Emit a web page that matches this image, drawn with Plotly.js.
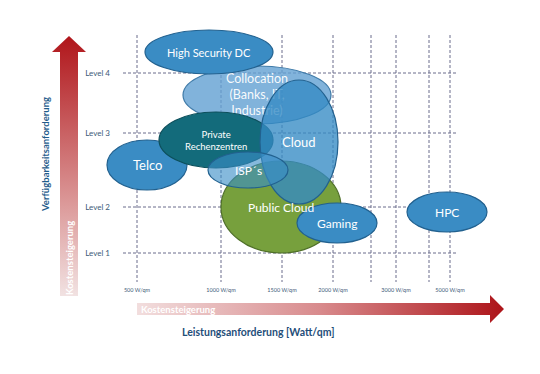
<!DOCTYPE html>
<html>
<head>
<meta charset="utf-8">
<script src="https://cdn.plot.ly/plotly-3.0.1.min.js"></script>
<style>html,body{margin:0;padding:0;background:#fff;}#chart{width:540px;height:374px;}</style>
</head>
<body>
<div id="chart"></div>
<script>
// ---- data (positions on the diagram scale) ----
const xTickPos   = [137, 221, 282, 333, 371, 396, 429, 450];
const xTickLabel = ['500 W/qm', '1000 W/qm', '1500 W/qm', '2000 W/qm', '', '3000 W/qm', '', '5000 W/qm'];
const levelPos   = [73, 133, 207, 253];
const levelLabel = ['Level 4', 'Level 3', 'Level 2', 'Level 1'];

const bubbleNames = ['Collocation', 'High Security DC', 'Telco', 'Public Cloud', 'Private<br>Rechenzentren', 'Cloud', 'ISP´s', 'Gaming', 'HPC'];
const bubbleX  = [257, 209, 147, 281, 216, 299, 248, 337, 447];
const bubbleY  = [95, 52, 165, 207, 140, 142, 170, 223, 212];
const bubbleRX = [74, 64, 40, 60, 57, 39, 40, 40, 40];
const bubbleRY = [29, 22, 25, 46, 28, 62, 18, 20, 20];
const collocationText = 'Collocation<br>(Banks, IT,<br>Industrie)';

// ---- styles ----
const fills = ['rgba(98,160,210,0.80)', '#3a8cc4', '#3a8cc4', '#77a03d', '#136b7b',
               'rgba(52,138,196,0.78)', 'rgba(58,142,198,0.62)', '#3a8cc4', '#3a8cc4'];
const lines = ['#3e7aa8', '#22618f', '#22618f', '#4f7028', '#0c4f5b', '#22618f', '#22618f', '#22618f', '#22618f'];
const fontSizes = [12, 11, 13, 12, 9.5, 13, 12, 12, 12];

const gridMinY = 35, gridMaxY = 282, gridMinX = 123, gridMaxX = 458;

const shapes = [];
// grid lines
xTickPos.forEach(v => shapes.push({type:'line', xref:'x', yref:'y', x0:v, x1:v, y0:gridMinY, y1:gridMaxY,
  line:{color:'#6b6d8c', width:1, dash:'3px,2px'}, layer:'below'}));
levelPos.forEach(v => shapes.push({type:'line', xref:'x', yref:'y', x0:gridMinX, x1:gridMaxX, y0:v, y1:v,
  line:{color:'#6b6d8c', width:1, dash:'3px,2px'}, layer:'below'}));
// bubbles
bubbleNames.forEach((n, i) => shapes.push({type:'circle', xref:'x', yref:'y',
  x0:bubbleX[i]-bubbleRX[i], x1:bubbleX[i]+bubbleRX[i], y0:bubbleY[i]-bubbleRY[i], y1:bubbleY[i]+bubbleRY[i],
  fillcolor:fills[i], line:{color:lines[i], width:1.2}, layer: i === 0 ? 'below' : 'above'}));

const annotations = [];
bubbleNames.forEach((n, i) => {
  if (i === 0) return;
  annotations.push({x:bubbleX[i], y:bubbleY[i] + (i===3?0:0), xref:'x', yref:'y', text:n, showarrow:false,
    font:{family:'Lato, "Open Sans", sans-serif', size:fontSizes[i], color:'#ffffff'}});
});
// arrow labels
annotations.push({x:69, y:258, xref:'x', yref:'y', text:'<b>Kostensteigerung</b>', textangle:-90, showarrow:false,
  font:{family:'Lato, sans-serif', size:9.5, color:'#ffffff'}});
annotations.push({x:178, y:309, xref:'x', yref:'y', text:'<b>Kostensteigerung</b>', showarrow:false,
  font:{family:'Lato, sans-serif', size:9.5, color:'#ffffff'}});
// axis titles
annotations.push({x:45, y:155, xref:'x', yref:'y', text:'<b>Verfügbarkeitsanforderung</b>', textangle:-90, showarrow:false,
  font:{family:'Lato, sans-serif', size:9.5, color:'#1f5c8b'}});
annotations.push({x:258, y:332, xref:'x', yref:'y', text:'<b>Leistungsanforderung [Watt/qm]</b>', showarrow:false,
  font:{family:'Lato, sans-serif', size:10.5, color:'#1f4e79'}});

// arrows (decoration)
const vArrow = {x:[60,60,52,69,86,78,78,60], y:[296,52,52,36,52,52,296,296],
  type:'scatter', mode:'lines', fill:'toself', line:{width:0, color:'rgba(0,0,0,0)'}, hoverinfo:'skip',
  fillgradient:{type:'vertical', start:296, stop:36, colorscale:[[0,'#f1e2e2'],[0.35,'#dc9a9a'],[1,'#b0151a']]}};
const hArrow = {x:[137,490,490,504,490,490,137,137], y:[303,303,295,309,323,315,315,303],
  type:'scatter', mode:'lines', fill:'toself', line:{width:0, color:'rgba(0,0,0,0)'}, hoverinfo:'skip',
  fillgradient:{type:'horizontal', start:137, stop:504, colorscale:[[0,'#f2dede'],[0.5,'#d88a8c'],[1,'#ad1419']]}};
const collocationLabel = {x:[bubbleX[0]], y:[bubbleY[0]+1], type:'scatter', mode:'text', text:[collocationText],
  textfont:{family:'Lato, "Open Sans", sans-serif', size:12.5, color:'rgba(255,255,255,0.95)'}, hoverinfo:'skip'};

const layout = {
  width:540, height:374, margin:{l:0, r:0, t:0, b:0}, showlegend:false,
  paper_bgcolor:'#ffffff', plot_bgcolor:'rgba(0,0,0,0)',
  xaxis:{range:[0,540], showgrid:false, zeroline:false, showline:false, ticks:'',
    tickvals:xTickPos, ticktext:xTickLabel, anchor:'free', position:(374-282)/374, ticklabelstandoff:3,
    tickfont:{family:'Lato, sans-serif', size:5.5, color:'#3c5a78'}, fixedrange:true},
  yaxis:{range:[374,0], showgrid:false, zeroline:false, showline:false, ticks:'',
    tickvals:levelPos, ticktext:levelLabel, anchor:'free', position:123/540, ticklabelstandoff:13,
    tickfont:{family:'Lato, sans-serif', size:8, color:'#3c5a78'}, fixedrange:true},
  shapes:shapes, annotations:annotations
};

Plotly.newPlot('chart', [vArrow, hArrow, collocationLabel], layout, {displayModeBar:false, staticPlot:true});
</script>
</body>
</html>
